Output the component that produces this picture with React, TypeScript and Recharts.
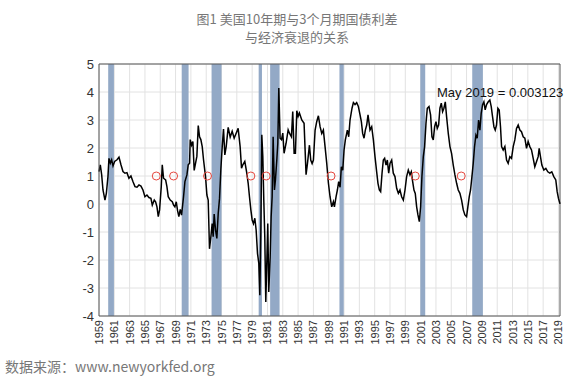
import React from "react";
import { CartesianGrid, Line, LineChart, ReferenceArea, ReferenceDot, ReferenceLine, XAxis, YAxis } from "recharts";

// 10y minus 3m treasury spread (year, percentage points)
const spreadYears = [
  1959.0, 1959.17, 1959.35, 1959.52, 1959.78, 1959.96, 1960.17, 1960.3, 1960.48, 1960.65, 1960.83, 1961.04,
  1961.35, 1961.61, 1961.87, 1962.13, 1962.39, 1962.65, 1962.91, 1963.17, 1963.43, 1963.7, 1963.96, 1964.22,
  1964.48, 1964.74, 1965.0, 1965.26, 1965.52, 1965.78, 1965.96, 1966.22, 1966.39, 1966.57, 1966.74, 1966.91,
  1967.13, 1967.26, 1967.43, 1967.7, 1967.87, 1968.04, 1968.3, 1968.57, 1968.74, 1968.91, 1969.09, 1969.26,
  1969.43, 1969.61, 1969.78, 1970.04, 1970.22, 1970.48, 1970.65, 1970.83, 1970.91, 1971.09, 1971.26, 1971.43,
  1971.61, 1971.78, 1971.96, 1972.13, 1972.3, 1972.48, 1972.65, 1972.91, 1973.09, 1973.26, 1973.43, 1973.61,
  1973.78, 1973.91, 1974.04, 1974.22, 1974.39, 1974.57, 1974.74, 1974.91, 1975.09, 1975.26, 1975.43, 1975.61,
  1975.87, 1976.13, 1976.39, 1976.65, 1976.91, 1977.17, 1977.43, 1977.61, 1977.78, 1978.04, 1978.3, 1978.48,
  1978.65, 1978.83, 1979.0, 1979.17, 1979.35, 1979.52, 1979.7, 1979.87, 1980.0, 1980.13, 1980.26, 1980.39,
  1980.52, 1980.65, 1980.78, 1980.91, 1981.04, 1981.17, 1981.35, 1981.48, 1981.61, 1981.74, 1981.91, 1982.04,
  1982.22, 1982.35, 1982.48, 1982.65, 1982.83, 1983.0, 1983.17, 1983.43, 1983.7, 1983.87, 1984.13, 1984.3,
  1984.48, 1984.65, 1984.83, 1985.0, 1985.17, 1985.48, 1985.78, 1986.04, 1986.22, 1986.48, 1986.65, 1986.83,
  1987.0, 1987.22, 1987.43, 1987.65, 1987.87, 1988.09, 1988.3, 1988.52, 1988.74, 1988.96, 1989.17, 1989.39,
  1989.61, 1989.74, 1989.96, 1990.13, 1990.3, 1990.48, 1990.65, 1990.83, 1991.0, 1991.17, 1991.43, 1991.61,
  1991.78, 1992.04, 1992.22, 1992.43, 1992.65, 1992.87, 1993.09, 1993.26, 1993.43, 1993.61, 1993.78, 1993.96,
  1994.13, 1994.39, 1994.61, 1994.83, 1995.04, 1995.26, 1995.43, 1995.61, 1995.78, 1995.96, 1996.13, 1996.3,
  1996.48, 1996.65, 1996.83, 1997.0, 1997.22, 1997.43, 1997.65, 1997.87, 1998.09, 1998.3, 1998.52, 1998.74,
  1998.96, 1999.17, 1999.39, 1999.61, 1999.78, 1999.96, 2000.13, 2000.3, 2000.48, 2000.65, 2000.83, 2001.0,
  2001.17, 2001.35, 2001.52, 2001.7, 2001.87, 2002.09, 2002.3, 2002.48, 2002.65, 2002.83, 2003.0, 2003.17,
  2003.35, 2003.52, 2003.7, 2003.87, 2004.04, 2004.22, 2004.39, 2004.61, 2004.83, 2005.04, 2005.26, 2005.48,
  2005.7, 2005.91, 2006.13, 2006.35, 2006.57, 2006.78, 2007.0, 2007.17, 2007.35, 2007.52, 2007.7, 2007.87,
  2008.04, 2008.22, 2008.39, 2008.57, 2008.74, 2008.91, 2009.09, 2009.26, 2009.43, 2009.61, 2009.83, 2010.04,
  2010.22, 2010.39, 2010.57, 2010.74, 2010.91, 2011.09, 2011.26, 2011.43, 2011.57, 2011.78, 2012.0, 2012.22,
  2012.43, 2012.65, 2012.87, 2013.09, 2013.3, 2013.52, 2013.74, 2013.96, 2014.17, 2014.39, 2014.61, 2014.83,
  2015.04, 2015.26, 2015.48, 2015.7, 2015.91, 2016.13, 2016.35, 2016.48, 2016.65, 2016.83, 2017.09, 2017.35,
  2017.61, 2017.87, 2018.13, 2018.39, 2018.65, 2018.83, 2019.0, 2019.2,
];
const spreadValues = [
  1.16, 1.4, 1.04, 0.5, 0.14, 0.38, 0.98, 1.63, 1.46, 1.58, 1.36, 1.52,
  1.58, 1.67, 1.4, 1.16, 1.1, 1.12, 0.92, 1.0, 0.8, 0.62, 0.6, 0.68,
  0.64, 0.5, 0.26, 0.32, 0.23, 0.2, -0.04, 0.14, 0.08, -0.1, -0.45, -0.21,
  0.62, 1.4, 0.92, 0.86, 0.62, 0.26, 0.14, 0.08, -0.04, -0.1, 0.08, -0.24,
  -0.45, -0.19, -0.4, 0.26, 0.8, 1.04, 1.4, 1.46, 2.3, 2.1, 2.23, 1.2,
  1.46, 1.7, 2.8, 2.4, 2.3, 2.05, 1.58, 0.98, 0.32, 0.14, -1.6, -1.17,
  -0.7, -1.17, -0.36, -0.93, -1.23, -0.33, 0.2, 1.22, 2.05, 2.68, 1.75, 2.05,
  2.74, 2.39, 2.6, 2.35, 2.53, 2.7, 2.05, 1.28, 1.4, 1.52, 1.1, 0.74,
  0.26, -0.21, -0.57, -0.7, -0.51, -0.93, -1.77, -2.12, -3.26, -1.05, 2.47, 1.7,
  0.14, -1.17, -3.5, -2.12, -0.7, -3.14, -1.9, -0.45, 0.26, 2.4, 0.5, 0.86,
  1.58, 2.17, 4.14, 2.35, 2.3, 2.53, 1.81, 2.17, 2.65, 2.53, 2.4, 3.3,
  1.81, 1.81, 3.33, 3.13, 3.25, 3.0, 2.88, 1.05, 1.44, 2.1, 1.57, 1.44,
  1.57, 2.64, 2.94, 3.15, 2.76, 2.52, 2.64, 2.05, 1.45, 0.74, 0.26, -0.1,
  0.08, -0.1, 0.26, 0.5, 0.8, 0.6, 1.33, 1.21, 1.93, 2.29, 2.64, 2.4,
  3.0, 3.42, 3.62, 3.55, 3.62, 3.48, 3.18, 2.94, 2.52, 2.35, 2.64, 2.82,
  3.18, 2.64, 2.76, 2.29, 1.69, 1.15, 0.74, 0.5, 0.44, 1.1, 1.57, 1.63,
  1.39, 1.57, 1.1, 1.45, 1.57, 1.1, 0.98, 0.56, 0.38, 0.5, 0.26, 0.14,
  0.5, 0.98, 1.21, 1.04, 1.15, 0.8, 0.5, 0.38, -0.1, -0.39, -0.63, -0.1,
  0.98, 1.69, 2.05, 2.88, 3.42, 3.48, 3.18, 2.4, 2.29, 2.76, 2.94, 2.7,
  2.82, 3.42, 3.6, 3.3, 3.42, 3.65, 3.12, 2.52, 2.05, 1.81, 1.39, 1.04,
  0.74, 0.5, 0.38, 0.14, -0.21, -0.39, -0.45, -0.1, 0.26, 0.5, 0.98, 1.45,
  2.05, 2.46, 2.35, 3.0, 2.64, 3.24, 3.55, 3.65, 3.36, 3.55, 3.65, 3.71,
  3.48, 3.12, 2.76, 2.64, 2.82, 3.42, 3.36, 2.76, 2.05, 1.93, 2.05, 1.57,
  1.45, 1.69, 1.63, 2.05, 2.29, 2.7, 2.82, 2.64, 2.58, 2.4, 2.35, 1.99,
  2.23, 2.05, 1.93, 1.63, 1.33, 1.51, 1.69, 1.99, 1.69, 1.39, 1.21, 1.27,
  1.15, 1.1, 1.15, 0.98, 0.86, 0.44, 0.2, 0.003123,
];

// shaded recessions
const recessionStart = [1960.2, 1969.8, 1973.7, 1979.85, 1981.35, 1990.4, 2000.96, 2007.74];
const recessionEnd = [1960.95, 1970.7, 1975.0, 1980.28, 1982.58, 1990.96, 2001.6, 2009.13];

// red circles: spread crosses 1 ahead of a recession
const signalYears = [1966.48, 1968.74, 1973.17, 1978.83, 1980.83, 1989.3, 2000.3, 2006.3];
const signalValue = 1;

const xTicks = Array.from({ length: 31 }, (_, i) => 1959 + i * 2);
const yTicks = [-4, -3, -2, -1, 0, 1, 2, 3, 4, 5];

const data = spreadYears.map((year, i) => ({ year, spread: spreadValues[i] }));

const YearTick = ({ x, y, payload }: any) => (
  <text
    x={x}
    y={y}
    transform={`rotate(-90 ${x} ${y})`}
    textAnchor="end"
    dominantBaseline="central"
    fontSize={11}
    fill="#333"
    fontFamily="Liberation Sans, Arial, sans-serif"
  >
    {payload.value}
  </text>
);

export default function App() {
  return (
    <div style={{ position: "absolute", left: 0, top: 0, width: 571, height: 378, background: "#fff" }}>
      <div
        style={{
          position: "absolute",
          left: 0,
          width: 594,
          top: 10,
          textAlign: "center",
          fontFamily: "Noto Sans CJK SC, sans-serif",
          fontSize: 13,
          lineHeight: "18px",
          color: "#777",
        }}
      >
        <div>图1 美国10年期与3个月期国债利差</div>
        <div>与经济衰退的关系</div>
      </div>
      <LineChart width={571} height={378} data={data} margin={{ top: 64, right: 11, bottom: 22, left: 69 }}>
        <CartesianGrid stroke="#e2e2e2" verticalValues={xTicks} horizontalValues={yTicks} />
        {recessionStart.map((s, i) => (
          <ReferenceArea key={s} x1={s} x2={recessionEnd[i]} y1={-4} y2={5} fill="#93a9c6" fillOpacity={1} stroke="none" />
        ))}
        <XAxis
          dataKey="year"
          type="number"
          domain={[1959, 2019.2]}
          ticks={xTicks}
          interval={0}
          tick={<YearTick />}
          tickSize={0}
          tickMargin={4}
          height={40}
          stroke="#555"
        />
        <YAxis
          type="number"
          domain={[-4, 5]}
          ticks={yTicks}
          interval={0}
          tickLine={false}
          tickSize={0}
          tickMargin={5}
          width={30}
          stroke="#555"
          tick={{ fontSize: 13, fill: "#333", fontFamily: "Liberation Sans, Arial, sans-serif" }}
        />
        <ReferenceLine y={5} stroke="#555" />
        <ReferenceLine x={2019.2} stroke="#555" />
        <Line type="linear" dataKey="spread" stroke="#000" strokeWidth={1.5} dot={false} isAnimationActive={false} />
        {signalYears.map((yr) => (
          <ReferenceDot key={yr} x={yr} y={signalValue} r={4} fill="none" stroke="#e5483f" strokeWidth={1} />
        ))}
      </LineChart>
      <div
        style={{
          position: "absolute",
          left: 437,
          top: 85,
          fontFamily: "Liberation Sans, Arial, sans-serif",
          fontSize: 13,
          color: "#111",
          whiteSpace: "nowrap",
        }}
      >
        May 2019 = 0.003123
      </div>
      <div
        style={{
          position: "absolute",
          left: 5,
          top: 356,
          fontFamily: "Noto Sans CJK SC, sans-serif",
          fontSize: 14,
          color: "#777",
          whiteSpace: "nowrap",
        }}
      >
        数据来源：www.newyorkfed.org
      </div>
    </div>
  );
}
